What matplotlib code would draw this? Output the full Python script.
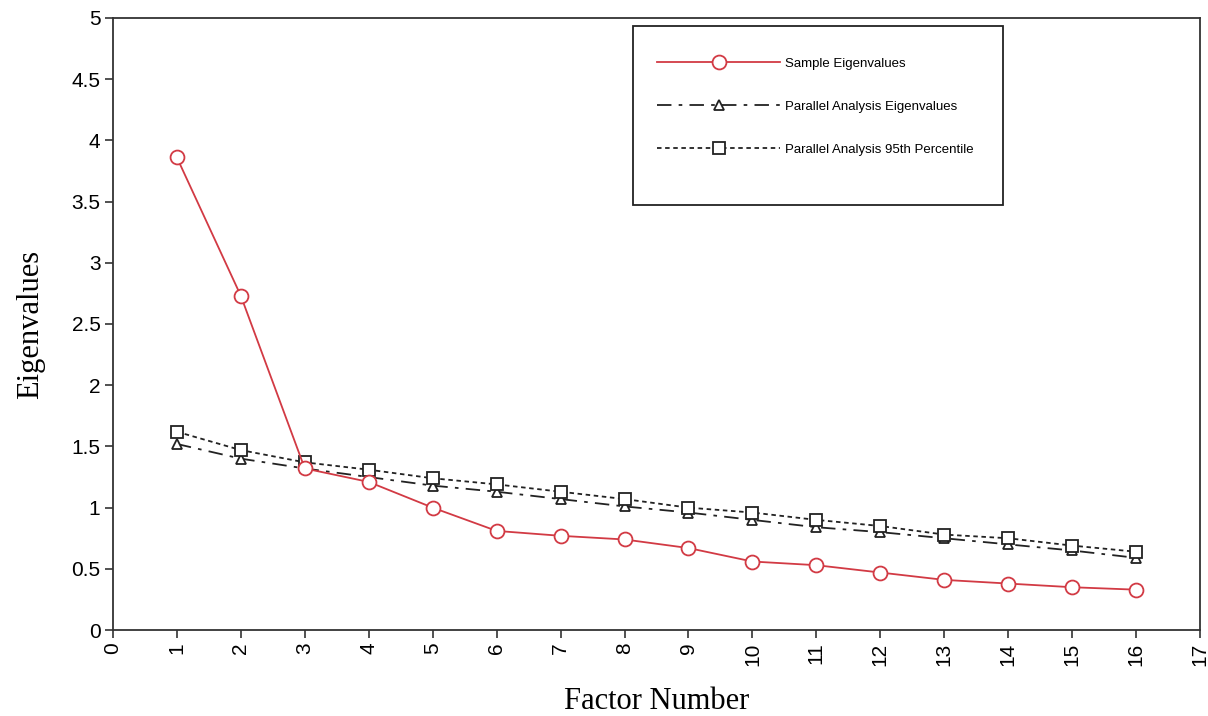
import matplotlib.pyplot as plt
from matplotlib.patches import Rectangle

# data
factors = list(range(1, 17))
sample_eig = [3.86, 2.73, 1.32, 1.21, 1.00, 0.81, 0.77, 0.74,
              0.67, 0.56, 0.53, 0.47, 0.41, 0.38, 0.35, 0.33]
pa_eig = [1.52, 1.40, 1.32, 1.25, 1.18, 1.13, 1.07, 1.01,
          0.96, 0.90, 0.84, 0.80, 0.75, 0.70, 0.65, 0.59]
pa_95 = [1.62, 1.47, 1.37, 1.31, 1.24, 1.19, 1.13, 1.07,
         1.00, 0.96, 0.90, 0.85, 0.78, 0.75, 0.69, 0.64]

x_ticks = list(range(0, 18))
y_ticks = [0, 0.5, 1, 1.5, 2, 2.5, 3, 3.5, 4, 4.5, 5]
y_labels = ["0", "0.5", "1", "1.5", "2", "2.5", "3", "3.5", "4", "4.5", "5"]

RED = '#d23a44'
DARK = '#222222'

fig = plt.figure(figsize=(12.08, 7.16), dpi=100)
ax = fig.add_axes([0.0935, 0.120, 0.8999, 0.855])

ax.plot(factors, sample_eig, color=RED, lw=1.3, marker='o', markersize=10,
        markerfacecolor='white', markeredgecolor=RED, markeredgewidth=1.3,
        label='Sample Eigenvalues', zorder=4)
ax.plot(factors, pa_eig, color=DARK, lw=1.3, dashes=(8, 4, 2, 4), marker='^',
        markersize=7, markerfacecolor='white', markeredgecolor=DARK,
        markeredgewidth=1.3, label='Parallel Analysis Eigenvalues', zorder=3)
ax.plot(factors, pa_95, color=DARK, lw=1.3, dashes=(2.5, 2), marker='s',
        markersize=9, markerfacecolor='white', markeredgecolor=DARK,
        markeredgewidth=1.3, label='Parallel Analysis 95th Percentile', zorder=3)

ax.set_xlim(0, 17)
ax.set_ylim(0, 5)
ax.set_xticks(x_ticks)
ax.set_xticklabels([str(t) for t in x_ticks], rotation=90,
                   family='Liberation Sans', fontsize=15)
ax.set_yticks(y_ticks)
ax.set_yticklabels(y_labels, family='Liberation Sans', fontsize=15)
ax.tick_params(direction='out', length=6, width=1.2, color='#333333', pad=3)
for s in ax.spines.values():
    s.set_linewidth(1.3)
    s.set_color('#333333')

ax.set_xlabel('Factor Number', family='Liberation Serif', fontsize=22, labelpad=15)
ax.set_ylabel('Eigenvalues', family='Liberation Serif', fontsize=22, labelpad=19)

# legend box drawn separately so it can be taller than its entries
ax.add_patch(Rectangle((0.478, 0.694), 0.341, 0.293, transform=ax.transAxes,
                       facecolor='white', edgecolor='#222222', lw=1.3, zorder=5))
leg = ax.legend(loc='upper left', bbox_to_anchor=(0.49, 0.955), frameon=False,
                numpoints=1, handlelength=9.3, labelspacing=2.35, handletextpad=0.4,
                prop={'family': 'Liberation Sans', 'size': 9.5})
leg.set_zorder(6)

fig.savefig('out.png', dpi=100)
